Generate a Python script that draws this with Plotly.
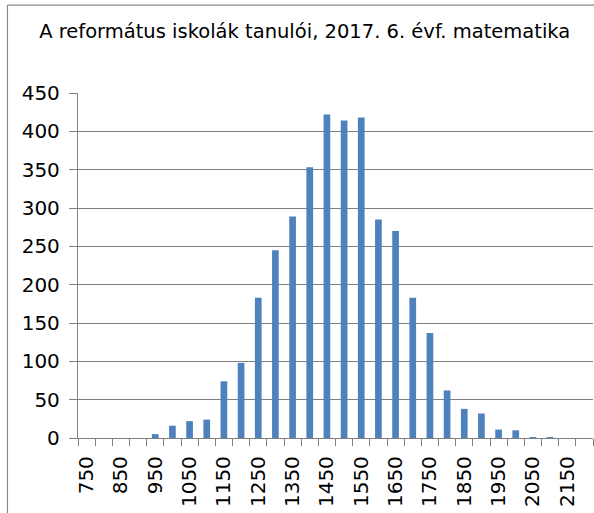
import plotly.graph_objects as go

# Data
score_bins = [750, 800, 850, 900, 950, 1000, 1050, 1100, 1150, 1200,
              1250, 1300, 1350, 1400, 1450, 1500, 1550, 1600, 1650, 1700,
              1750, 1800, 1850, 1900, 1950, 2000, 2050, 2100, 2150, 2200]
student_counts = [0, 0, 0, 0, 5, 16, 22, 24, 74, 98,
                  183, 245, 289, 353, 422, 414, 418, 285, 270, 183,
                  137, 62, 38, 32, 11, 10, 1, 1, 0, 0]
x_tick_values = [750, 850, 950, 1050, 1150, 1250, 1350, 1450, 1550, 1650,
                 1750, 1850, 1950, 2050, 2150]
x_tick_labels = ["750", "850", "950", "1050", "1150", "1250", "1350", "1450",
                 "1550", "1650", "1750", "1850", "1950", "2050", "2150"]
y_tick_values = [0, 50, 100, 150, 200, 250, 300, 350, 400, 450]
title_text = "A református iskolák tanulói, 2017. 6. évf. matematika"

half = (score_bins[1] - score_bins[0]) / 2
boundaries = [b - half for b in score_bins] + [score_bins[-1] + half]

FONT = "DejaVu Sans"
GRID = "#808080"
BORDER = "#8a8a8a"

fig = go.Figure()
fig.add_trace(go.Bar(
    x=score_bins, y=student_counts,
    marker=dict(color="#4F81BD", line=dict(width=0)),
    hoverinfo="x+y",
))

fig.update_layout(
    width=594, height=513,
    margin=dict(l=78, r=1, t=93, b=75, pad=0),
    paper_bgcolor="white", plot_bgcolor="white",
    bargap=0.61,
    showlegend=False,
    title=dict(text=title_text, x=0.513, xanchor="center", y=0.94, yanchor="middle",
               font=dict(family=FONT, size=19.5, color="#000000")),
    font=dict(family=FONT, color="#000000"),
    shapes=[
        dict(type="line", xref="paper", yref="paper",
             x0=-0.137, x1=1.05, y0=1.255, y1=1.255,
             line=dict(color=BORDER, width=1.2), layer="above"),
        dict(type="line", xref="paper", yref="paper",
             x0=-0.137, x1=-0.137, y0=-0.3, y1=1.255,
             line=dict(color=BORDER, width=1.2), layer="above"),
    ],
)

fig.update_xaxes(
    range=[boundaries[0], boundaries[-1]],
    tickmode="array", tickvals=x_tick_values, ticktext=x_tick_labels,
    tickangle=-90, ticks="", showgrid=False,
    ticklabelstandoff=9,
    tickfont=dict(family=FONT, size=20, color="#000000"),
    showline=True, linecolor=GRID, linewidth=1.3,
    minor=dict(tickmode="array", tickvals=boundaries, ticks="outside",
               ticklen=7, tickcolor=GRID, tickwidth=1.3, showgrid=False),
    zeroline=False,
)
fig.update_yaxes(
    range=[0, 450],
    tickmode="array", tickvals=y_tick_values,
    ticks="outside", ticklen=8, tickcolor=GRID, tickwidth=1.3,
    ticklabelstandoff=5,
    tickfont=dict(family=FONT, size=20, color="#000000"),
    showgrid=True, gridcolor=GRID, gridwidth=1.3,
    showline=True, linecolor=GRID, linewidth=1.3,
    zeroline=False,
)

fig.write_html("out.html", config={"displayModeBar": False},
               post_script="document.body.style.margin='0';document.body.style.overflow='hidden';")
